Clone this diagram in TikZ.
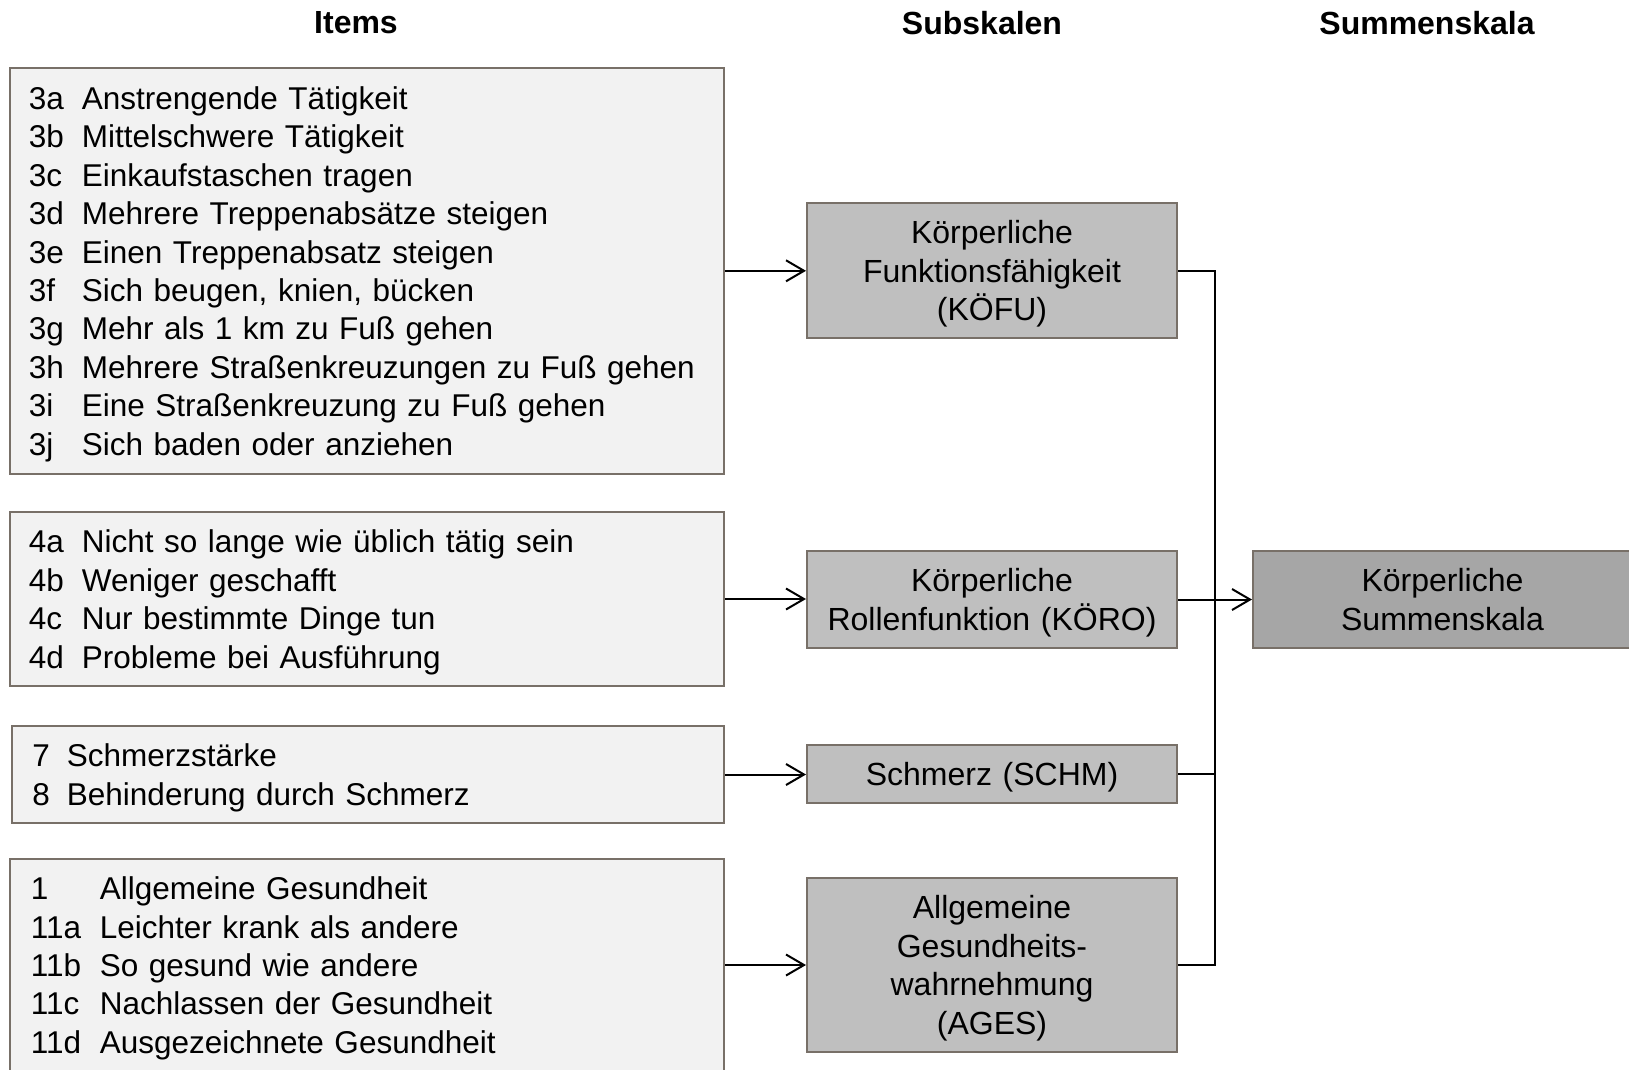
\documentclass[tikz,border=0pt]{standalone}
\usepackage{fontspec}
\setmainfont{Liberation Sans}
\usetikzlibrary{arrows.meta,positioning}
\definecolor{rand}{RGB}{120,112,104}
\definecolor{itemgrau}{RGB}{242,242,242}
\definecolor{subgrau}{RGB}{191,191,191}
\definecolor{summgrau}{RGB}{166,166,166}
\newcommand\itm[3][53pt]{\makebox[#1][l]{#2}#3}
\newcommand\zeile{\rule[-7pt]{0pt}{37pt}}

\begin{document}
\begin{tikzpicture}[x=1pt,y=-1pt,>={Straight Barb[length=18pt,width=21pt]},line width=2pt,
  font=\fontsize{32}{38.4}\selectfont,
  kopf/.style={font=\fontsize{32}{38.4}\selectfont\bfseries},
  itembox/.style={draw=rand,fill=itemgrau,align=left,inner xsep=18.5pt,inner ysep=0pt,
    font=\fontsize{31.5}{38.4}\selectfont,
    execute at begin node=\zeile,execute at end node=\zeile},
  subbox/.style={draw=rand,fill=subgrau,align=center,text width=370pt,inner sep=0pt,
    execute at begin node=\zeile,execute at end node=\zeile},
  summbox/.style={subbox,fill=summgrau,text width=379pt}]
\useasboundingbox (0,0) rectangle (1629,1069);
% Spaltenkoepfe
\node[kopf] (hitems) at (356,23) {Items};
\node[kopf] (hsub) at (982,23) {Subskalen};
\node[kopf] (hsum) at (1427,23) {Summenskala};
% Items
\node[itembox,text width=676.6pt,minimum height=406.5pt] (itfu) at (367.2,270.8) {%
\itm{3a}{Anstrengende Tätigkeit}\\
\itm{3b}{Mittelschwere Tätigkeit}\\
\itm{3c}{Einkaufstaschen tragen}\\
\itm{3d}{Mehrere Treppenabsätze steigen}\\
\itm{3e}{Einen Treppenabsatz steigen}\\
\itm{3f}{Sich beugen, knien, bücken}\\
\itm{3g}{Mehr als 1 km zu Fuß gehen}\\
\itm{3h}{Mehrere Straßenkreuzungen zu Fuß gehen}\\
\itm{3i}{Eine Straßenkreuzung zu Fuß gehen}\\
\itm{3j}{Sich baden oder anziehen}};
\node[itembox,text width=676.6pt,minimum height=174pt] (itro) at (367.2,599) {%
\itm{4a}{Nicht so lange wie üblich tätig sein}\\
\itm{4b}{Weniger geschafft}\\
\itm{4c}{Nur bestimmte Dinge tun}\\
\itm{4d}{Probleme bei Ausführung}};
\node[itembox,inner xsep=20pt,text width=671.5pt,minimum height=97pt] (itsc) at (368.2,774.5) {%
\itm[34.5pt]{7}{Schmerzstärke}\\
\itm[34.5pt]{8}{Behinderung durch Schmerz}};
\node[itembox,inner xsep=20.5pt,text width=672.6pt,minimum height=212pt] (itag) at (367.2,965) {%
\itm[69pt]{1}{Allgemeine Gesundheit}\\
\itm[69pt]{11a}{Leichter krank als andere}\\
\itm[69pt]{11b}{So gesund wie andere}\\
\itm[69pt]{11c}{Nachlassen der Gesundheit}\\
\itm[69pt]{11d}{Ausgezeichnete Gesundheit}};
% Subskalen
\node[subbox,minimum height=135pt] (kofu) at (992,270.5) {Körperliche\\Funktionsfähigkeit\\(KÖFU)};
\node[subbox,minimum height=97pt] (koro) at (992,599.5) {Körperliche\\Rollenfunktion (KÖRO)};
\node[subbox,minimum height=58pt] (schm) at (992,774) {Schmerz (SCHM)};
\node[subbox,minimum height=174pt] (ages) at (992,965) {Allgemeine\\Gesundheits-\\wahrnehmung\\(AGES)};
% Summenskala
\node[summbox,minimum height=97pt] (summ) at (1442.5,599.5) {Körperliche\\Summenskala};
% Verbindungen
\coordinate (bus) at (1215,0);
\draw[->] (itfu.east) -- (itfu.east -| kofu.west);
\draw[->] (itro.east) -- (itro.east -| koro.west);
\draw[->] (itsc.east) -- (itsc.east -| schm.west);
\draw[->] (itag.east) -- (itag.east -| ages.west);
\draw (kofu.east) -- (kofu.east -| bus) -- (ages.east -| bus) -- (ages.east);
\draw (schm.east) -- (schm.east -| bus);
\draw[->] (koro.east) -- (koro.east -| summ.west);
\end{tikzpicture}
\end{document}
